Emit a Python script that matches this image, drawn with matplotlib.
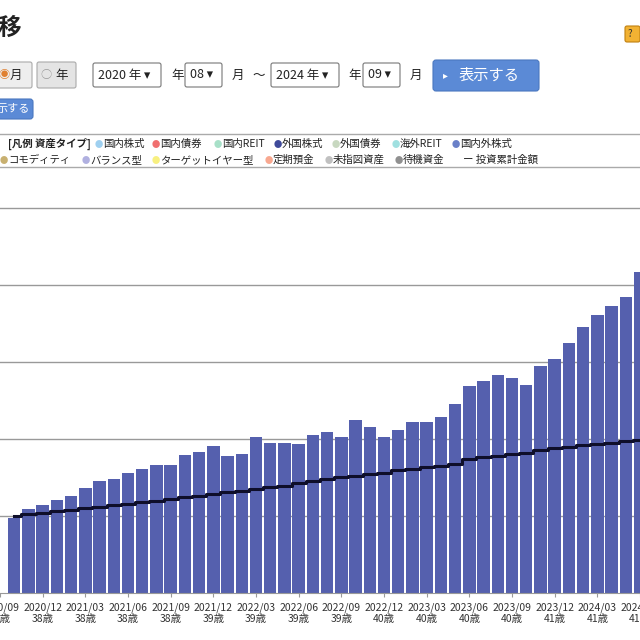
import matplotlib
matplotlib.use("Agg")
import matplotlib.pyplot as plt
from matplotlib.patches import FancyBboxPatch

plt.rcParams["font.family"] = ["Noto Sans CJK JP", "DejaVu Sans"]

# monthly balance (bars), 2020/10 .. 2024/06, in gridline units
balance = [0.97, 1.09, 1.14, 1.21, 1.26, 1.36, 1.45, 1.48, 1.56, 1.61, 1.66, 1.66,
           1.79, 1.83, 1.91, 1.78, 1.81, 2.03, 1.95, 1.95, 1.94, 2.05, 2.09, 2.03,
           2.25, 2.16, 2.03, 2.12, 2.22, 2.22, 2.29, 2.45, 2.69, 2.75, 2.83, 2.79,
           2.70, 2.94, 3.04, 3.25, 3.45, 3.61, 3.72, 3.84, 4.17]
# cumulative invested amount (step line)
invested = [1.00, 1.02, 1.04, 1.06, 1.08, 1.10, 1.12, 1.14, 1.16, 1.18, 1.20, 1.22,
            1.24, 1.26, 1.28, 1.31, 1.33, 1.35, 1.37, 1.39, 1.43, 1.45, 1.48, 1.50,
            1.52, 1.54, 1.56, 1.59, 1.61, 1.63, 1.65, 1.67, 1.74, 1.76, 1.78, 1.80,
            1.82, 1.86, 1.88, 1.90, 1.92, 1.93, 1.95, 1.97, 1.99]
tick_idx = [-1, 2, 5, 8, 11, 14, 17, 20, 23, 26, 29, 32, 35, 38, 41, 44]
tick_dates = ["2020/09", "2020/12", "2021/03", "2021/06", "2021/09", "2021/12", "2022/03",
              "2022/06", "2022/09", "2022/12", "2023/03", "2023/06", "2023/09", "2023/12",
              "2024/03", "2024/06"]
tick_ages = ["38歳", "38歳", "38歳", "38歳", "38歳", "39歳", "39歳", "39歳", "39歳",
             "40歳", "40歳", "40歳", "40歳", "41歳", "41歳", "41歳"]

W = H = 640
fig = plt.figure(figsize=(6.4, 6.4), dpi=100)


def px(x, y):
    return x / W, 1 - y / H


def box(x0, y0, x1, y1, fc, ec, r=2):
    fx, fy = px(x0, y1)
    fig.patches.append(FancyBboxPatch((fx, fy), (x1 - x0) / W, (y1 - y0) / H,
                                      boxstyle=f"round,pad=0,rounding_size={r / W}",
                                      fc=fc, ec=ec, lw=0.8, transform=fig.transFigure))


def txt(x, y, s, size=9, color="#222222", **kw):
    fig.text(*px(x, y), s, fontsize=size, color=color, va="center", **kw)


# header controls
txt(-2, 28, "移", size=17, weight="bold")
box(625, 26, 640, 42, "#F2B233", "#C08010")
txt(628, 34, "?", size=7, color="#333333")
box(-5, 62, 32, 88, "#EEEEEE", "#AAAAAA")
txt(-2, 75, "◉", size=8, color="#E08030")
txt(10, 75, "月", size=9)
box(37, 62, 76, 88, "#E4E4E4", "#AAAAAA")
txt(40, 75, "○", size=8, color="#999999")
txt(55, 75, "年", size=9)
for x0, x1, s in [(93, 161, "2020 年 ▾"), (185, 222, "08 ▾"), (271, 339, "2024 年 ▾"), (363, 400, "09 ▾")]:
    box(x0, 63, x1, 87, "white", "#777777")
    txt(x0 + 5, 75, s, size=9)
for x, s in [(171, "年"), (232, "月"), (252, "～"), (348, "年"), (410, "月")]:
    txt(x, 75, s, size=9)
box(433, 60, 539, 91, "#5B8AD6", "#4A78C0", r=3)
txt(443, 75, "▸", size=7, color="white")
txt(459, 75, "表示する", size=11, color="white")
box(-5, 99, 33, 119, "#5B8AD6", "#4A78C0", r=3)
txt(-3, 109, "示する", size=8, color="white")

# legend
fig.add_artist(plt.Line2D([0, 1], [1 - 134 / H] * 2, color="#AAAAAA", lw=1))
fig.add_artist(plt.Line2D([0, 1], [1 - 167 / H] * 2, color="#AAAAAA", lw=1))
txt(8, 144, "[凡例 資産タイプ]", size=7.5, weight="bold")
items = [(103, 144, "国内株式", "#9FD0F0"), (160, 144, "国内債券", "#F07070"),
         (222, 144, "国内REIT", "#A8E0C8"), (282, 144, "外国株式", "#3F4A9A"),
         (340, 144, "外国債券", "#C8D8C0"), (400, 144, "海外REIT", "#A0E0E0"),
         (460, 144, "国内外株式", "#6A80C8"),
         (8, 160, "コモディティ", "#C8B070"), (90, 160, "バランス型", "#B0B0E0"),
         (160, 160, "ターゲットイヤー型", "#F8F080"), (273, 160, "定期預金", "#F8A890"),
         (333, 160, "未指図資産", "#C0C0C0"), (403, 160, "待機資金", "#909090")]
for x, y, s, c in items:
    txt(x - 8, y, "●", size=6, color=c)
    txt(x, y, s, size=7.5)
txt(463, 160, "ー 投資累計金額", size=7.5)

# chart
ax = fig.add_axes([0, 1 - 593 / H, 1, (593 - 190) / H])
idx = list(range(len(balance)))
ax.bar(idx, balance, width=0.88, color="#5560AE", zorder=2)
ax.plot(idx, invested, drawstyle="steps-mid", color="#0E0E2A", lw=2.2, zorder=3)
for g in [1, 2, 3, 4, 5]:
    ax.axhline(g, color="#999999", lw=1, zorder=1)
ax.set_xlim(-0.95, 43.5)
ax.set_ylim(0, 5.23)
ax.set_yticks([])
ax.set_xticks(tick_idx)
ax.set_xticklabels([f"{d}\n{a}" for d, a in zip(tick_dates, tick_ages)], fontsize=7.5, color="#333333")
ax.tick_params(axis="x", length=3, color="#999999")
for side in ["top", "left", "right"]:
    ax.spines[side].set_visible(False)
ax.spines["bottom"].set_color("#999999")
ax.set_facecolor("white")

fig.savefig("out.png", dpi=100)
